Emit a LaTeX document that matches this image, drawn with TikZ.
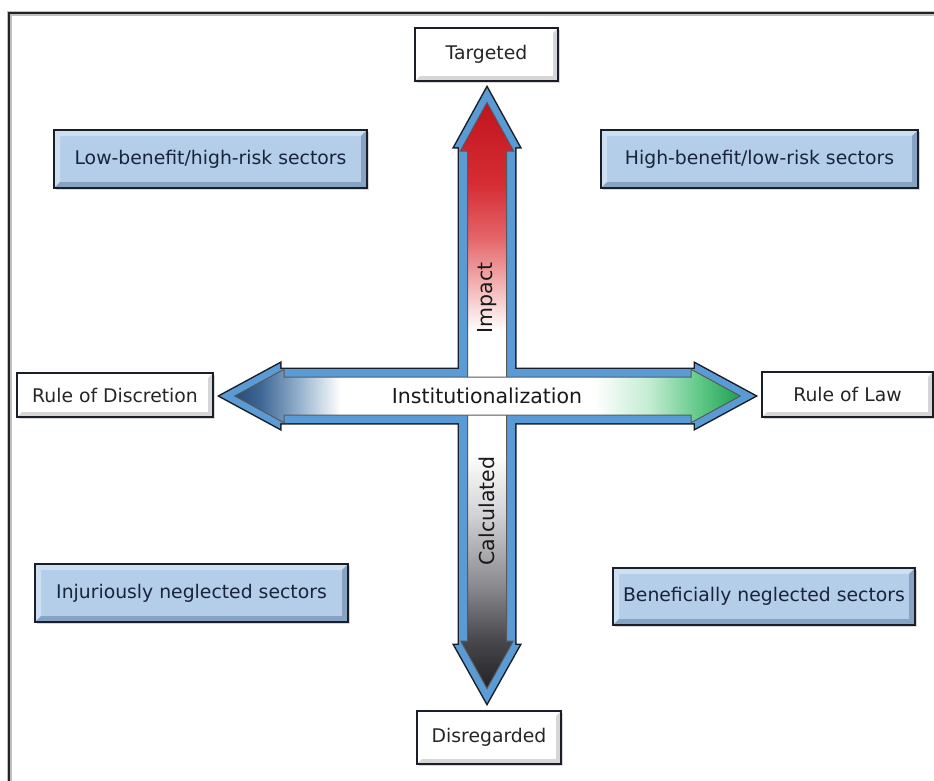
\documentclass[tikz,border=0pt]{standalone}
\usepackage{fontspec}
\setmainfont{DejaVu Sans}
\usetikzlibrary{calc,shadows}

\definecolor{framedark}{RGB}{35,35,35}
\definecolor{boxblue}{RGB}{180,205,232}
\definecolor{boxtext}{RGB}{25,35,60}
\definecolor{rimblue}{RGB}{91,155,213}
\definecolor{rimdark}{RGB}{25,30,40}
\definecolor{bevlightblue}{RGB}{205,224,243}
\definecolor{bevdarkblue}{RGB}{135,163,195}

% vertical arrow colours (bottom to top)
\definecolor{vA}{RGB}{35,35,38}
\definecolor{vB}{RGB}{70,70,75}
\definecolor{vC}{RGB}{140,140,145}
\definecolor{vD}{RGB}{212,212,215}
\definecolor{vE}{RGB}{242,178,178}
\definecolor{vF}{RGB}{228,100,105}
\definecolor{vG}{RGB}{214,45,52}
\definecolor{vH}{RGB}{192,20,30}
% horizontal arrow colours (left to right)
\definecolor{hA}{RGB}{40,75,115}
\definecolor{hB}{RGB}{62,102,148}
\definecolor{hC}{RGB}{150,178,206}
\definecolor{hD}{RGB}{195,236,210}
\definecolor{hE}{RGB}{95,200,135}
\definecolor{hF}{RGB}{30,160,80}

\pgfdeclareverticalshading{impactcalc}{100bp}{%
  color(0bp)=(vA); color(25bp)=(vA); color(29bp)=(vB); color(34bp)=(vC);
  color(40bp)=(vD); color(45bp)=(white); color(55.5bp)=(white);
  color(59.5bp)=(vE); color(63.5bp)=(vF); color(68bp)=(vG);
  color(75bp)=(vH); color(100bp)=(vH)}
\pgfdeclarehorizontalshading{institution}{100bp}{%
  color(0bp)=(hA); color(25bp)=(hA); color(27.5bp)=(hB); color(31.4bp)=(hC);
  color(35.5bp)=(white); color(60.5bp)=(white); color(66bp)=(hD);
  color(71bp)=(hE); color(75bp)=(hF); color(100bp)=(hF)}

\tikzset{
  bevel/.style n args={3}{path picture={
    \path (path picture bounding box.north west) coordinate (bnw)
          (path picture bounding box.north east) coordinate (bne)
          (path picture bounding box.south west) coordinate (bsw)
          (path picture bounding box.south east) coordinate (bse);
    \fill[#1] (bnw) -- (bne) -- ([shift={(-#3,-#3)}]bne) -- ([shift={(#3,-#3)}]bnw) -- cycle;
    \fill[#1] (bnw) -- (bsw) -- ([shift={(#3,#3)}]bsw) -- ([shift={(#3,-#3)}]bnw) -- cycle;
    \fill[#2] (bsw) -- (bse) -- ([shift={(-#3,#3)}]bse) -- ([shift={(#3,#3)}]bsw) -- cycle;
    \fill[#2] (bne) -- (bse) -- ([shift={(-#3,#3)}]bse) -- ([shift={(-#3,-#3)}]bne) -- cycle;
  }},
  basebox/.style={draw=rimdark, line width=2.4pt, inner sep=0pt,
    font=\fontsize{18.8}{22}\selectfont,
    drop shadow={shadow xshift=1.6pt, shadow yshift=-1.6pt, opacity=.3}},
  whitebox/.style={basebox, fill=white, text=black!85,
    bevel={white}{black!16}{5pt}},
  sectorbox/.style={basebox, fill=boxblue, text=boxtext,
    bevel={bevlightblue}{bevdarkblue}{6pt}},
  arrowtext/.style={inner sep=0pt, text=black!90,
    font=\fontsize{20.5}{24}\selectfont},
  rimline/.style={draw=rimdark, line width=3pt, line join=miter},
  rimfill/.style={fill=rimblue},
  arrowedge/.style={draw=black!65, line width=1pt, line join=miter},
}

% outer outlines of the two double arrows
\def\impactouter{(487,88) -- (519.5,147) -- (515,147) -- (515,645)
  -- (519.5,645) -- (487,703) -- (454.5,645) -- (459,645)
  -- (459,147) -- (454.5,147) -- cycle}
\def\instouter{(220,396) -- (280,363.5) -- (280,369) -- (695,369)
  -- (695,363.5) -- (755,396) -- (695,428.5) -- (695,423)
  -- (280,423) -- (280,428.5) -- cycle}
% inner (coloured) regions
\def\impactinner{(487,102.5) -- (513.7,151) -- (506.5,151) -- (506.5,641)
  -- (513.2,641) -- (487,688.5) -- (460.8,641) -- (467.5,641)
  -- (467.5,151) -- (460.3,151) -- cycle}
\def\instinner{(234.7,396) -- (284,369.3) -- (284,377) -- (691,377)
  -- (691,369.3) -- (740.3,396) -- (691,422.7) -- (691,415)
  -- (284,415) -- (284,422.7) -- cycle}

\begin{document}
\begin{tikzpicture}[x=1pt, y=-1pt]
  \useasboundingbox (0,0) rectangle (934,780);

  % outer frame (only top and left edges fall inside the page)
  \coordinate (frameBL) at (9,790);
  \coordinate (frameTL) at (9,13);
  \coordinate (frameTR) at (944,13);
  \draw[black!25, line width=5pt] (frameBL) -- (frameTL) -- (frameTR);
  \draw[framedark, line width=2.6pt] (frameBL) -- (frameTL) -- (frameTR);

  % cross of two double arrows: dark rims, blue rims, then coloured cores
  \path[rimline] \impactouter;
  \path[rimline] \instouter;
  \path[rimfill] \impactouter;
  \path[rimfill] \instouter;
  \shade[shading=impactcalc, arrowedge] \impactinner;
  \shade[shading=institution, arrowedge] \instinner;

  \node[arrowtext, rotate=90] (impact) at (487,298) {Impact};
  \node[arrowtext, rotate=90] (calculated) at (487,511) {Calculated};
  \node[arrowtext] (institutionalization) at (487,396) {Institutionalization};

  % end labels of the axes
  \node[whitebox, minimum width=143pt, minimum height=53pt] (targeted) at (486.5,54.5) {Targeted};
  \node[whitebox, minimum width=144pt, minimum height=53pt] (disregarded) at (489,737.5) {Disregarded};
  \node[whitebox, minimum width=196pt, minimum height=44pt] (discretion) at (115,395) {Rule of Discretion};
  \node[whitebox, minimum width=171pt, minimum height=45pt] (law) at (847.5,394.5) {Rule of Law};

  % quadrant labels
  \node[sectorbox, minimum width=313pt, minimum height=58pt] (lowbenefit) at (210.5,159) {Low-benefit/high-risk sectors};
  \node[sectorbox, minimum width=317pt, minimum height=58pt] (highbenefit) at (759.5,159) {High-benefit/low-risk sectors};
  \node[sectorbox, minimum width=313pt, minimum height=58pt] (injurious) at (191.5,593) {Injuriously neglected sectors};
  \node[sectorbox, minimum width=302pt, minimum height=57pt] (beneficial) at (764,596.5) {Beneficially neglected sectors};
\end{tikzpicture}
\end{document}
